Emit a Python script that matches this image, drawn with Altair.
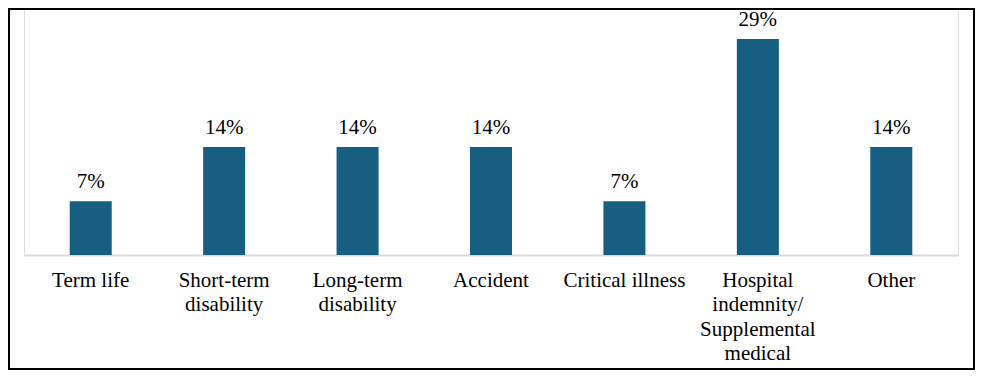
import altair as alt
import pandas as pd

categories = [
    "Term life",
    "Short-term|disability",
    "Long-term|disability",
    "Accident",
    "Critical illness",
    "Hospital|indemnity/|Supplemental|medical",
    "Other",
]
values = [7.1, 14.3, 14.3, 14.3, 7.1, 28.6, 14.3]
labels = ["7%", "14%", "14%", "14%", "7%", "29%", "14%"]

df = pd.DataFrame({"category": categories, "value": values, "label": labels})

FONT = "Liberation Serif"
BAR = "#175F82"

x = alt.X(
    "category:N",
    sort=categories,
    scale=alt.Scale(paddingInner=0.685, paddingOuter=0.3425),
    axis=alt.Axis(
        title=None,
        labelAngle=0,
        ticks=False,
        domain=True,
        domainColor="#d9d9d9",
        domainWidth=2,
        labelFont=FONT,
        labelFontSize=21,
        labelColor="#000000",
        labelPadding=14,
        labelLineHeight=24.5,
        labelExpr="split(datum.label, '|')",
        labelLimit=300,
    ),
)
y = alt.Y("value:Q", scale=alt.Scale(domain=[0, 32.7]), axis=None)

bars = alt.Chart(df).mark_bar(color=BAR).encode(x=x, y=y)
text = alt.Chart(df).mark_text(
    font=FONT, fontSize=21, color="#000000", baseline="alphabetic", dy=-13
).encode(x=x, y=y, text="label:N")

border = alt.Chart(pd.DataFrame({"b": [0]})).mark_rect(
    fill=None, stroke="#000000", strokeWidth=2
).encode(
    x=alt.value(-15), x2=alt.value(950), y=alt.value(1), y2=alt.value(361)
)

chart = alt.layer(bars, text, border).properties(
    width=934,
    height=247,
    padding={"left": 16, "top": 0, "right": 17, "bottom": 115},
    autosize=alt.AutoSizeParams(type="none"),
).configure_view(stroke=None).configure(background="#ffffff")

chart.save("out.html", embed_options={"renderer": "svg", "actions": False})
